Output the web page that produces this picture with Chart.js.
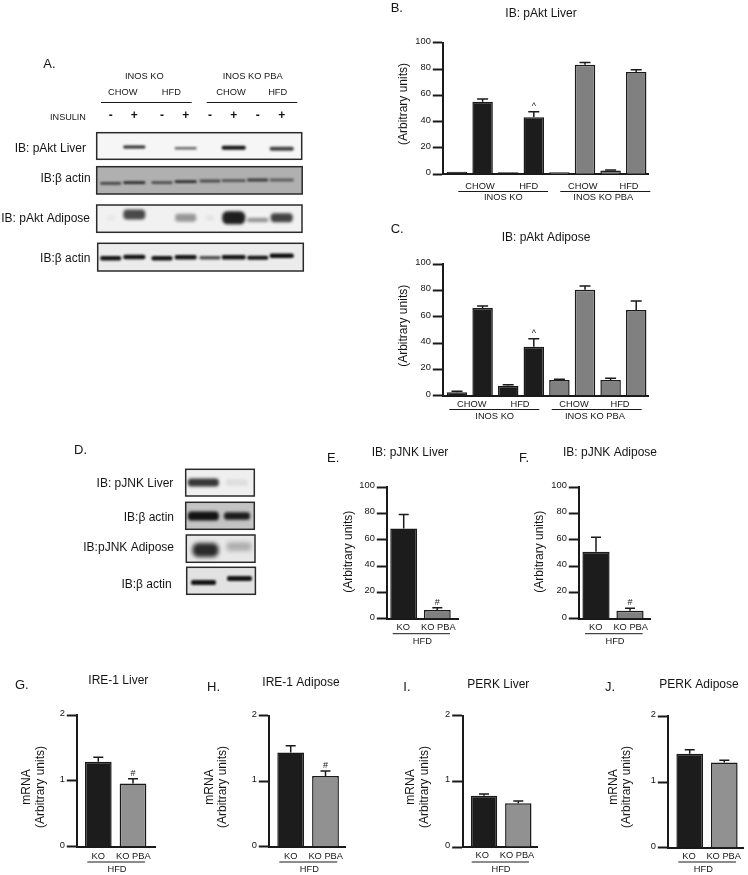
<!DOCTYPE html>
<html>
<head>
<meta charset="utf-8">
<title>pAkt and pJNK blots</title>
<script src="https://cdn.jsdelivr.net/npm/chart.js@4"></script>
<style>
  html, body { margin: 0; padding: 0; background: #fff; }
  #page { position: relative; width: 748px; height: 875px; overflow: hidden; filter: blur(0.5px); }
  #page canvas { position: absolute; left: 0; top: 0; }
</style>
</head>
<body>
<div id="page"><canvas id="blots" width="748" height="875"></canvas></div>
<script>
// values
var aktGroups = ['CHOW', 'HFD', 'CHOW', 'HFD'];
var aktStrains = ['INOS KO', 'INOS KO PBA'];
var hfdCats = ['KO', 'KO PBA'];
var hfdGroup = 'HFD';

var aktLiver = [2, 55.2, 1.6, 43.3, 1.6, 83.3, 2.8, 77.7];
var aktLiverTop = [2, 57.2, 1.6, 47.6, 1.6, 85, 3.3, 79.5];
var aktAdipose = [2.7, 66.5, 7.6, 37.2, 11.9, 80.4, 11.9, 65];
var aktAdiposeTop = [3.3, 68.2, 8.3, 43.3, 12.4, 83.3, 13.2, 72];
var jnkLiver = [68.4, 6.6];
var jnkLiverTop = [79.2, 8.4];
var jnkAdipose = [50.9, 6];
var jnkAdiposeTop = [61.8, 8];
var ireLiver = [1.29, 0.96];
var ireLiverTop = [1.36, 1.03];
var ireAdipose = [1.44, 1.08];
var ireAdiposeTop = [1.54, 1.155];
var perkLiver = [0.78, 0.665];
var perkLiverTop = [0.807, 0.7];
var perkAdipose = [1.43, 1.295];
var perkAdiposeTop = [1.49, 1.33];

var aktMarks = ['', '', '', '^', '', '', '', ''];
var hashMarks = ['', '#'];
var noMarks = ['', ''];

var ticks100 = [0, 20, 40, 60, 80, 100];
var ticks2 = [0, 1, 2];

// blot lane intensities
var insulinSigns = ['-', '+', '-', '+', '-', '+', '-', '+'];
var pAktLiverLanes = [0, 0.85, 0, 0.6, 0, 0.95, 0, 0.75];
var actinLiverLanes = [0.65, 0.8, 0.6, 0.8, 0.6, 0.55, 0.7, 0.5];
var pAktAdiposeLanes = [0.04, 0.72, 0, 0.38, 0.06, 0.9, 0.42, 0.75];
var actinAdiposeLanes = [0.95, 0.95, 0.95, 0.95, 0.7, 0.95, 0.95, 0.98];
var pJnkLiverLanes = [0.8, 0.08];
var actinJnkLiverLanes = [0.95, 0.9];
var pJnkAdiposeLanes = [0.85, 0.25];
var actinJnkAdiposeLanes = [0.95, 0.95];

var BLACK = '#1c1c1c', LINE = '#1a1a1a', TEXT = '#151515';
var GRAY = '#808080', GRAY2 = '#919191';
var FONT = '"Liberation Sans", Arial, sans-serif';

function text(ctx, str, x, y, size, align) {
  ctx.font = size + 'px ' + FONT;
  ctx.fillStyle = TEXT;
  ctx.textAlign = align || 'center';
  ctx.textBaseline = 'middle';
  ctx.fillText(str, x, y);
}

function vtext(ctx, str, x, y, size) {
  ctx.save();
  ctx.translate(x, y);
  ctx.rotate(-Math.PI / 2);
  text(ctx, str, 0, 0, size);
  ctx.restore();
}

function hline(ctx, x1, x2, y) {
  ctx.strokeStyle = LINE;
  ctx.lineWidth = 1;
  ctx.beginPath();
  ctx.moveTo(x1, y);
  ctx.lineTo(x2, y);
  ctx.stroke();
}

// one bar panel. All positions are page pixels, every canvas covers the whole page
function barPanel(p) {
  var c = document.createElement('canvas');
  c.width = 748;
  c.height = 875;
  document.getElementById('page').appendChild(c);

  var spacing = p.centers[1] - p.centers[0];
  var xMin = -(p.centers[0] - p.axisX) / spacing;
  var xMax = xMin + (p.axisEnd - p.axisX) / spacing;
  var yWidth = 40;

  var decor = {
    id: 'decor',
    afterDatasetsDraw: function (chart) {
      var ctx = chart.ctx, sx = chart.scales.x, sy = chart.scales.y;
      ctx.save();
      // error bars, upper arm only
      ctx.strokeStyle = LINE;
      ctx.lineWidth = 1.5;
      p.tops.forEach(function (top, i) {
        if (top <= p.values[i]) return;
        var x = sx.getPixelForValue(i), y = sy.getPixelForValue(top), y0 = sy.getPixelForValue(p.values[i]);
        ctx.beginPath();
        ctx.moveTo(x, y0);
        ctx.lineTo(x, y);
        ctx.moveTo(x - p.cap / 2, y);
        ctx.lineTo(x + p.cap / 2, y);
        ctx.stroke();
        if (p.marks[i]) text(ctx, p.marks[i], x, y - 5.5, 9);
      });
      text(ctx, p.title[0], p.title[1], p.title[2], 12);
      text(ctx, p.letter[0], p.letter[1], p.letter[2], 13, 'left');
      p.yTitle.forEach(function (t) { vtext(ctx, t[0], t[1], t[2], 12); });
      p.labels.forEach(function (t) { text(ctx, t[0], t[1], t[2], 9.3); });
      p.lines.forEach(function (t) { hline(ctx, t[0], t[1], t[2]); });
      ctx.restore();
    }
  };

  new Chart(c, {
    type: 'bar',
    data: {
      datasets: [{
        data: p.values.map(function (v, i) { return { x: i, y: v }; }),
        backgroundColor: p.colors,
        borderColor: LINE,
        borderWidth: 1.5,
        barPercentage: p.barPct,
        categoryPercentage: 1
      }]
    },
    options: {
      responsive: false,
      animation: false,
      events: [],
      layout: {
        padding: {
          left: p.axisX - yWidth,
          right: 748 - p.axisEnd,
          top: p.yTopPx,
          bottom: 875 - p.y0Px
        }
      },
      plugins: { legend: { display: false }, title: { display: false }, tooltip: { enabled: false } },
      scales: {
        x: {
          type: 'linear',
          offset: false,
          min: xMin,
          max: xMax,
          afterFit: function (s) { s.height = 0; },
          ticks: { display: false },
          grid: { display: false, drawTicks: false },
          border: { display: true, color: LINE, width: 2 }
        },
        y: {
          min: 0,
          max: p.yTicks[p.yTicks.length - 1],
          afterFit: function (s) { s.width = yWidth; },
          afterBuildTicks: function (s) { s.ticks = p.yTicks.map(function (v) { return { value: v }; }); },
          ticks: {
            color: TEXT,
            padding: 2,
            labelOffset: -1.5,
            font: { family: FONT, size: 9.3 }
          },
          grid: { drawOnChartArea: false, tickLength: 10.5, tickWidth: 2, tickColor: LINE },
          border: { display: true, color: LINE, width: 2 }
        }
      }
    },
    plugins: [decor]
  });
}

var k = BLACK, g = GRAY, h = GRAY2;

barPanel({
  values: aktLiver, tops: aktLiverTop, marks: aktMarks, yTicks: ticks100,
  colors: [k, k, k, k, g, g, g, g], barPct: 0.8, cap: 11,
  axisX: 443.3, axisEnd: 648, yTopPx: 42.7, y0Px: 174.3,
  centers: [457, 482.6],
  title: ['IB: pAkt Liver', 541, 14], letter: ['B.', 390.7, 8],
  yTitle: [['(Arbitrary units)', 403.3, 104]],
  labels: [[aktGroups[0], 480, 186], [aktGroups[1], 528.7, 186], [aktGroups[2], 582.7, 186], [aktGroups[3], 629, 186],
           [aktStrains[0], 503.3, 197.5], [aktStrains[1], 603.3, 197.5]],
  lines: [[458.3, 548, 191.5], [560.3, 650.3, 191.5]]
});

barPanel({
  values: aktAdipose, tops: aktAdiposeTop, marks: aktMarks, yTicks: ticks100,
  colors: [k, k, k, k, g, g, g, g], barPct: 0.8, cap: 11,
  axisX: 443.3, axisEnd: 648, yTopPx: 264, y0Px: 395.7,
  centers: [457, 482.6],
  title: ['IB: pAkt Adipose', 546, 238], letter: ['C.', 390.7, 229.5],
  yTitle: [['(Arbitrary units)', 403.3, 325.8]],
  labels: [[aktGroups[0], 471.7, 404], [aktGroups[1], 520, 404], [aktGroups[2], 574, 404], [aktGroups[3], 620, 404],
           [aktStrains[0], 494.7, 416.7], [aktStrains[1], 595, 416.7]],
  lines: [[449.3, 539.3, 409.5], [551.7, 641.7, 409.5]]
});

barPanel({
  values: jnkLiver, tops: jnkLiverTop, marks: hashMarks, yTicks: ticks100,
  colors: [k, g], barPct: 0.8, cap: 10,
  axisX: 387.3, axisEnd: 458.3, yTopPx: 487, y0Px: 618.7,
  centers: [403.7, 437.3],
  title: ['IB: pJNK Liver', 410, 452.3], letter: ['E.', 327, 458],
  yTitle: [['(Arbitrary units)', 348.3, 551.7]],
  labels: [[hfdCats[0], 403.3, 627.3], [hfdCats[1], 438.3, 627.3], [hfdGroup, 422.3, 641.3]],
  lines: [[392.7, 450, 633.7]]
});

barPanel({
  values: jnkAdipose, tops: jnkAdiposeTop, marks: hashMarks, yTicks: ticks100,
  colors: [k, g], barPct: 0.8, cap: 10,
  axisX: 579.3, axisEnd: 650, yTopPx: 487, y0Px: 618.7,
  centers: [596, 630],
  title: ['IB: pJNK Adipose', 610, 452.3], letter: ['F.', 519, 458],
  yTitle: [['(Arbitrary units)', 540, 551.7]],
  labels: [[hfdCats[0], 595.7, 627.3], [hfdCats[1], 630.7, 627.3], [hfdGroup, 615, 641.3]],
  lines: [[585, 642.7, 633.7]]
});

barPanel({
  values: ireLiver, tops: ireLiverTop, marks: hashMarks, yTicks: ticks2,
  colors: [k, h], barPct: 0.77, cap: 10,
  axisX: 77.3, axisEnd: 155, yTopPx: 715, y0Px: 846.7,
  centers: [98.3, 133],
  title: ['IRE-1 Liver', 118.3, 680.7], letter: ['G.', 15, 685],
  yTitle: [['mRNA', 26.7, 787], ['(Arbitrary units)', 40.7, 787]],
  labels: [[hfdCats[0], 98.3, 856], [hfdCats[1], 133.3, 856], [hfdGroup, 117, 869.7]],
  lines: [[87.3, 145, 862]]
});

barPanel({
  values: ireAdipose, tops: ireAdiposeTop, marks: hashMarks, yTicks: ticks2,
  colors: [k, h], barPct: 0.77, cap: 10,
  axisX: 269.3, axisEnd: 345, yTopPx: 715.7, y0Px: 846.7,
  centers: [290.7, 325.5],
  title: ['IRE-1 Adipose', 301, 682.7], letter: ['H.', 207, 687],
  yTitle: [['mRNA', 210, 787], ['(Arbitrary units)', 222.3, 787]],
  labels: [[hfdCats[0], 290.7, 856], [hfdCats[1], 325.7, 856], [hfdGroup, 309.3, 869.7]],
  lines: [[279.3, 337.3, 862]]
});

barPanel({
  values: perkLiver, tops: perkLiverTop, marks: noMarks, yTicks: ticks2,
  colors: [k, h], barPct: 0.77, cap: 10,
  axisX: 462.7, axisEnd: 537.7, yTopPx: 715.7, y0Px: 847,
  centers: [484, 518.3],
  title: ['PERK Liver', 498.3, 685], letter: ['I.', 403.3, 687],
  yTitle: [['mRNA', 411, 787], ['(Arbitrary units)', 424.3, 787]],
  labels: [[hfdCats[0], 482.3, 855.5], [hfdCats[1], 517, 855.5], [hfdGroup, 501, 869.3]],
  lines: [[471.7, 529, 862]]
});

barPanel({
  values: perkAdipose, tops: perkAdiposeTop, marks: noMarks, yTicks: ticks2,
  colors: [k, h], barPct: 0.77, cap: 10,
  axisX: 668.3, axisEnd: 743.3, yTopPx: 716.3, y0Px: 847.7,
  centers: [689.7, 724.3],
  title: ['PERK Adipose', 699, 685], letter: ['J.', 605, 687],
  yTitle: [['mRNA', 614, 787], ['(Arbitrary units)', 626.7, 787]],
  labels: [[hfdCats[0], 689, 856], [hfdCats[1], 723.7, 856], [hfdGroup, 703.3, 869.7]],
  lines: [[678.3, 736, 862]]
});

// western blot strips and their labels
function blot(ctx, b) {
  ctx.save();
  ctx.beginPath();
  ctx.rect(b.x, b.y, b.w, b.h);
  ctx.clip();
  ctx.fillStyle = b.bg;
  ctx.fillRect(b.x, b.y, b.w, b.h);
  ctx.filter = 'blur(' + (b.blur || 1.3) + 'px)';
  b.lanes.forEach(function (s, i) {
    if (!s) return;
    ctx.fillStyle = 'rgba(8,8,8,' + s + ')';
    ctx.beginPath();
    ctx.roundRect(b.cx[i] - b.bw[i] / 2, b.cy[i] - b.bh[i] / 2, b.bw[i], b.bh[i], b.bh[i] / 2.5);
    ctx.fill();
  });
  ctx.restore();
  ctx.strokeStyle = '#2a2a2a';
  ctx.lineWidth = 1.5;
  ctx.strokeRect(b.x, b.y, b.w, b.h);
}

var laneX = [110.7, 134.3, 162, 185.7, 210, 233.7, 257.7, 281.7];
var w8 = [21, 22, 21, 22, 21, 24, 21, 24];
function fill8(v) { return [v, v, v, v, v, v, v, v]; }

var bctx = document.getElementById('blots').getContext('2d');
blot(bctx, { x: 96.7, y: 132.7, w: 205, h: 26.6, bg: '#f6f6f6', lanes: pAktLiverLanes, cx: laneX,
  cy: [147, 147, 148, 148.3, 148, 147.7, 148, 148.7], bw: w8, bh: [3, 3, 3, 2.5, 3, 4, 3, 4], blur: 0.9 });
blot(bctx, { x: 96.7, y: 166.7, w: 205.5, h: 27.3, bg: '#b0b0b0', lanes: actinLiverLanes, cx: laneX,
  cy: [183.3, 182.7, 182.7, 181.7, 181, 180.7, 180, 180], bw: w8, bh: fill8(2.8), blur: 0.9 });
blot(bctx, { x: 96.7, y: 205, w: 205.3, h: 27.3, bg: '#f1f1f1', lanes: pAktAdiposeLanes, cx: laneX,
  cy: [218, 214.5, 218, 217.7, 218, 217.7, 220, 217.7], bw: [8, 22, 8, 21, 8, 23, 21, 22], bh: [5, 10, 4, 8, 5, 13, 4, 9], blur: 1.4 });
blot(bctx, { x: 97.7, y: 243.3, w: 205.6, h: 27.7, bg: '#ececec', lanes: actinAdiposeLanes, cx: laneX,
  cy: [258.3, 257, 258.3, 257.3, 257.7, 257.3, 257.7, 255.7], bw: w8, bh: [4.5, 4.5, 4.5, 4.5, 3.5, 4.5, 4, 4.5], blur: 0.9 });

blot(bctx, { x: 185.7, y: 469.3, w: 68.6, h: 26.7, bg: '#efefef', lanes: pJnkLiverLanes, cx: [203.3, 236.7],
  cy: [482.5, 482.5], bw: [31, 22], bh: [8, 6], blur: 1.8 });
blot(bctx, { x: 185.7, y: 502.3, w: 68.6, h: 27, bg: '#c4c4c4', lanes: actinJnkLiverLanes, cx: [203.3, 237],
  cy: [516, 516], bw: [31, 26], bh: [9, 7.5], blur: 1.6 });
blot(bctx, { x: 186.3, y: 535, w: 68.7, h: 27.3, bg: '#e8e8e8', lanes: pJnkAdiposeLanes, cx: [205.5, 239],
  cy: [550, 546.5], bw: [26, 25], bh: [14, 9], blur: 2 });
blot(bctx, { x: 186.7, y: 567.3, w: 68.7, h: 27, bg: '#e2e2e2', lanes: actinJnkAdiposeLanes, cx: [203.5, 239.5],
  cy: [582.5, 578.5], bw: [25, 25], bh: [5, 5], blur: 1 });

text(bctx, 'A.', 43.3, 64, 13, 'left');
text(bctx, 'D.', 74, 450, 13, 'left');
text(bctx, aktStrains[0], 144.3, 76.7, 9.3);
text(bctx, aktStrains[1], 252.7, 76.7, 9.3);
text(bctx, aktGroups[0], 122.7, 92.3, 9.3);
text(bctx, aktGroups[1], 171.3, 92.3, 9.3);
text(bctx, aktGroups[2], 231, 92.3, 9.3);
text(bctx, aktGroups[3], 277.7, 92.3, 9.3);
hline(bctx, 101, 191.7, 102.5);
hline(bctx, 206.7, 297.3, 102.5);
text(bctx, 'INSULIN', 68, 117.3, 9.1);
insulinSigns.forEach(function (s, i) {
  bctx.font = 'bold 12px ' + FONT;
  bctx.fillStyle = TEXT;
  bctx.textAlign = 'center';
  bctx.textBaseline = 'middle';
  bctx.fillText(s, laneX[i], 115.5);
});

text(bctx, 'IB: pAkt Liver', 86, 149, 12, 'right');
text(bctx, 'IB:β actin', 90.7, 178.3, 12, 'right');
text(bctx, 'IB: pAkt Adipose', 90, 219, 12, 'right');
text(bctx, 'IB:β actin', 90.3, 258.3, 12, 'right');

text(bctx, 'IB: pJNK Liver', 173.3, 483.3, 12, 'right');
text(bctx, 'IB:β actin', 174, 517.7, 12, 'right');
text(bctx, 'IB:pJNK Adipose', 174, 548, 12, 'right');
text(bctx, 'IB:β actin', 171.7, 584.3, 12, 'right');
</script>
</body>
</html>
